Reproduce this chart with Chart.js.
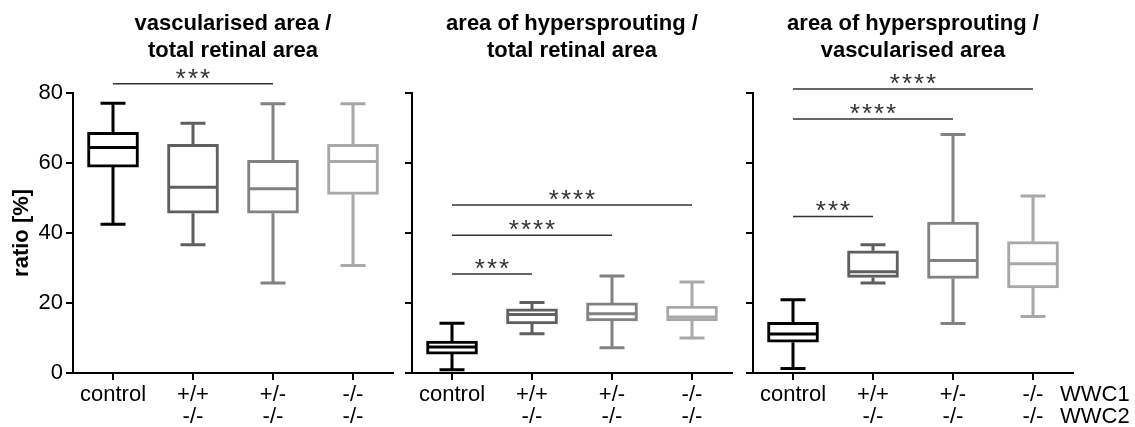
<!DOCTYPE html>
<html>
<head>
<meta charset="utf-8">
<script src="https://cdn.jsdelivr.net/npm/chart.js@4.4.1/dist/chart.umd.min.js"></script>
<style>
  body { margin: 0; background: #fff; width: 1135px; height: 427px; overflow: hidden; position: relative; }
  canvas { position: absolute; top: 0; }
</style>
</head>
<body>
<canvas id="panel1" width="400" height="427" style="left:0px"></canvas>
<canvas id="panel2" width="340" height="427" style="left:400px"></canvas>
<canvas id="panel3" width="395" height="427" style="left:740px"></canvas>
<script>
const groups = [['control'], ['+/+', '-/-'], ['+/-', '-/-'], ['-/-', '-/-']];
const genotypeNames = ['WWC1', 'WWC2'];
const yTicks = [0, 20, 40, 60, 80];
const groupColors = ['#000000', '#5f5f5f', '#828282', '#a8a8a8'];

// vascularised area / total retinal area
const vascMin = [42.5, 36.6, 25.7, 30.7];
const vascQ1 = [58.8, 45.6, 45.6, 51.0];
const vascMedian = [64.4, 53.0, 52.6, 60.4];
const vascQ3 = [68.7, 65.3, 60.7, 65.3];
const vascMax = [77.0, 71.3, 76.9, 76.9];
const vascSig = [[0, 2, 82.6, '***']];

// area of hypersprouting / total retinal area
const hyperTotalMin = [0.9, 11.2, 7.2, 10.0];
const hyperTotalQ1 = [5.4, 14.0, 14.9, 14.9];
const hyperTotalMedian = [7.4, 16.7, 16.9, 16.0];
const hyperTotalQ3 = [9.1, 18.3, 20.0, 19.1];
const hyperTotalMax = [14.2, 20.1, 27.7, 26.0];
const hyperTotalSig = [[0, 1, 28.3, '***'], [0, 2, 39.3, '****'], [0, 3, 48.0, '****']];

// area of hypersprouting / vascularised area
const hyperVascMin = [1.3, 25.7, 14.1, 16.1];
const hyperVascQ1 = [8.8, 27.3, 27.0, 24.3];
const hyperVascMedian = [11.1, 28.9, 32.1, 31.2];
const hyperVascQ3 = [14.5, 34.9, 43.1, 37.5];
const hyperVascMax = [20.9, 36.6, 68.1, 50.5];
const hyperVascSig = [[0, 1, 44.7, '***'], [0, 2, 72.5, '****'], [0, 3, 81.1, '****']];

const FONT = '"Liberation Sans", Arial, sans-serif';

function makePanel(id, title, stats, sig, opts) {
  const boxPlugin = {
    id: 'boxWhiskers',
    beforeDatasetsDraw(chart) {
      const ctx = chart.ctx;
      const x = chart.scales.x, y = chart.scales.y;
      ctx.save();
      ctx.lineWidth = 3;
      stats.min.forEach((v, i) => {
        const cx = x.getPixelForValue(i);
        ctx.strokeStyle = groupColors[i];
        ctx.beginPath();
        ctx.moveTo(cx, y.getPixelForValue(stats.max[i]));
        ctx.lineTo(cx, y.getPixelForValue(stats.q3[i]));
        ctx.moveTo(cx, y.getPixelForValue(stats.q1[i]));
        ctx.lineTo(cx, y.getPixelForValue(v));
        ctx.moveTo(cx - 12.5, y.getPixelForValue(stats.max[i]));
        ctx.lineTo(cx + 12.5, y.getPixelForValue(stats.max[i]));
        ctx.moveTo(cx - 12.5, y.getPixelForValue(v));
        ctx.lineTo(cx + 12.5, y.getPixelForValue(v));
        ctx.stroke();
      });
      ctx.restore();
    },
    afterDatasetsDraw(chart) {
      const ctx = chart.ctx;
      const x = chart.scales.x, y = chart.scales.y;
      ctx.save();
      ctx.lineWidth = 3;
      stats.median.forEach((v, i) => {
        const cx = x.getPixelForValue(i);
        const py = y.getPixelForValue(v);
        ctx.strokeStyle = groupColors[i];
        ctx.beginPath();
        ctx.moveTo(cx - 24, py);
        ctx.lineTo(cx + 24, py);
        ctx.stroke();
      });
      ctx.restore();
    },
    afterDraw(chart) {
      const ctx = chart.ctx;
      const x = chart.scales.x, y = chart.scales.y;
      ctx.save();
      ctx.strokeStyle = '#333';
      ctx.fillStyle = '#333';
      ctx.lineWidth = 1.5;
      ctx.font = '26px ' + FONT;
      ctx.textAlign = 'center';
      ctx.textBaseline = 'alphabetic';
      if ('letterSpacing' in ctx) ctx.letterSpacing = '2px';
      sig.forEach(([from, to, level, stars]) => {
        const x1 = x.getPixelForValue(from), x2 = x.getPixelForValue(to);
        const py = y.getPixelForValue(level);
        ctx.beginPath();
        ctx.moveTo(x1, py);
        ctx.lineTo(x2, py);
        ctx.stroke();
        ctx.fillText(stars, (x1 + x2) / 2 + 1, py + 3);
      });
      if ('letterSpacing' in ctx) ctx.letterSpacing = '0px';
      if (opts.rowNames) {
        ctx.fillStyle = '#000';
        ctx.font = '22px ' + FONT;
        ctx.textAlign = 'left';
        ctx.textBaseline = 'middle';
        const lx = x.getPixelForValue(groups.length - 1) + 27;
        opts.rowNames.forEach((name, r) => {
          ctx.fillText(name, lx, x.top + 22 + r * 22);
        });
      }
      ctx.restore();
    }
  };

  return new Chart(document.getElementById(id), {
    type: 'bar',
    data: {
      labels: groups,
      datasets: [{
        data: stats.q1.map((v, i) => [v, stats.q3[i]]),
        backgroundColor: '#ffffff',
        borderColor: groupColors,
        borderWidth: 3,
        borderSkipped: false,
        barThickness: 51
      }]
    },
    options: {
      responsive: false,
      animation: false,
      events: [],
      layout: { padding: { left: 0, right: opts.rightPad, top: 0, bottom: 0 } },
      plugins: {
        legend: { display: false },
        tooltip: { enabled: false },
        title: {
          display: true,
          text: title,
          fullSize: false,
          color: '#000',
          font: { size: 22, weight: 'bold', family: FONT, lineHeight: 1.2 },
          padding: { top: 11, bottom: 29 }
        }
      },
      scales: {
        x: {
          grid: { display: true, drawOnChartArea: false, offset: false, tickLength: 7, color: '#000', lineWidth: 2 },
          border: { display: true, color: '#000', width: 2 },
          ticks: { color: '#000', font: { size: 22, family: FONT, lineHeight: 1.0 }, padding: 4, maxRotation: 0, autoSkip: false },
          afterFit(scale) { scale.height = 54; }
        },
        y: {
          min: yTicks[0],
          max: yTicks[yTicks.length - 1],
          grid: { display: true, drawOnChartArea: false, tickLength: 7, color: '#000', lineWidth: 2 },
          border: { display: true, color: '#000', width: 2 },
          ticks: { stepSize: yTicks[1] - yTicks[0], display: opts.yLabels, color: '#000', font: { size: 22, family: FONT }, padding: 3 },
          title: {
            display: opts.yLabels,
            text: 'ratio [%]',
            color: '#000',
            font: { size: 22, weight: 'bold', family: FONT, lineHeight: 1.2 },
            padding: { top: 9, bottom: 0 }
          },
          afterFit(scale) { scale.width = opts.yWidth; }
        }
      }
    },
    plugins: [boxPlugin]
  });
}

makePanel('panel1', ['vascularised area /', 'total retinal area'],
  { min: vascMin, q1: vascQ1, median: vascMedian, q3: vascQ3, max: vascMax },
  vascSig, { yLabels: true, yWidth: 73, rightPad: 7 });

makePanel('panel2', ['area of hypersprouting /', 'total retinal area'],
  { min: hyperTotalMin, q1: hyperTotalQ1, median: hyperTotalMedian, q3: hyperTotalQ3, max: hyperTotalMax },
  hyperTotalSig, { yLabels: false, yWidth: 12, rightPad: 8 });

makePanel('panel3', ['area of hypersprouting /', 'vascularised area'],
  { min: hyperVascMin, q1: hyperVascQ1, median: hyperVascMedian, q3: hyperVascQ3, max: hyperVascMax },
  hyperVascSig, { yLabels: false, yWidth: 13, rightPad: 62, rowNames: genotypeNames });
</script>
</body>
</html>
